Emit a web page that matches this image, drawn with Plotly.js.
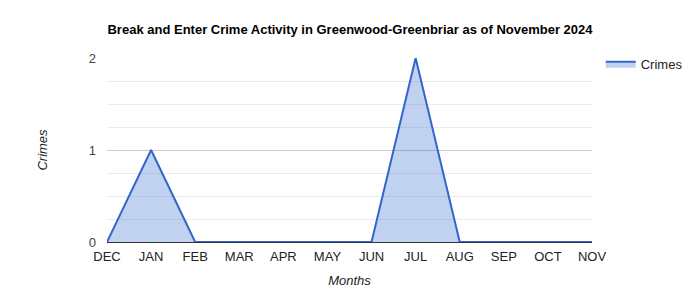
<!DOCTYPE html>
<html>
<head>
<meta charset="utf-8">
<script src="https://cdn.plot.ly/plotly-3.0.1.min.js"></script>
<style>html,body{margin:0;padding:0;background:#fff;}#chart{width:700px;height:300px;}</style>
</head>
<body>
<div id="chart"></div>
<script>
const months = ['DEC','JAN','FEB','MAR','APR','MAY','JUN','JUL','AUG','SEP','OCT','NOV'];
const crimes = [0,1,0,0,0,0,0,2,0,0,0,0];
const seriesName = 'Crimes';
const titleText = 'Break and Enter Crime Activity in Greenwood-Greenbriar as of November 2024';

const trace = {
  x: months,
  y: crimes,
  name: seriesName,
  type: 'scatter',
  mode: 'lines',
  fill: 'tozeroy',
  fillcolor: 'rgba(51,102,204,0.3)',
  line: {color: '#3366cc', width: 2}
};

const layout = {
  width: 700, height: 300,
  margin: {l: 107, r: 106, t: 58, b: 58},
  paper_bgcolor: '#fff', plot_bgcolor: '#fff',
  font: {family: 'Arial, "Liberation Sans", sans-serif', size: 13, color: '#222'},
  title: {text: '<b>' + titleText + '</b>', x: 0.5, xanchor: 'center', y: 0.902, yanchor: 'middle',
          font: {size: 13, color: '#000'}},
  xaxis: {
    type: 'category', range: [0, 11], showgrid: false, zeroline: false,
    minor: {showgrid: false},
    showline: false, ticks: '', tickfont: {size: 13, color: '#222'}, ticklabelstandoff: 5,
    title: {text: '<i>Months</i>', standoff: 12, font: {size: 13, color: '#222'}},
    fixedrange: true
  },
  yaxis: {
    range: [0, 2], dtick: 1, tick0: 0, showgrid: true, gridcolor: '#cccccc', gridwidth: 1,
    zeroline: true, zerolinecolor: '#333333', zerolinewidth: 1,
    minor: {dtick: 0.25, showgrid: true, gridcolor: '#ebebeb', gridwidth: 1},
    ticks: '', tickfont: {size: 13, color: '#444'}, ticklabelstandoff: 10,
    title: {text: '<i>Crimes</i>', standoff: 38, font: {size: 13, color: '#222'}},
    fixedrange: true
  },
  showlegend: true,
  legend: {x: 1.018, xanchor: 'left', y: 1.05, yanchor: 'top', font: {size: 13, color: '#222'},
           bgcolor: 'rgba(0,0,0,0)', itemwidth: 30}
};

Plotly.newPlot('chart', [trace], layout, {displayModeBar: false, staticPlot: true});
</script>
</body>
</html>
